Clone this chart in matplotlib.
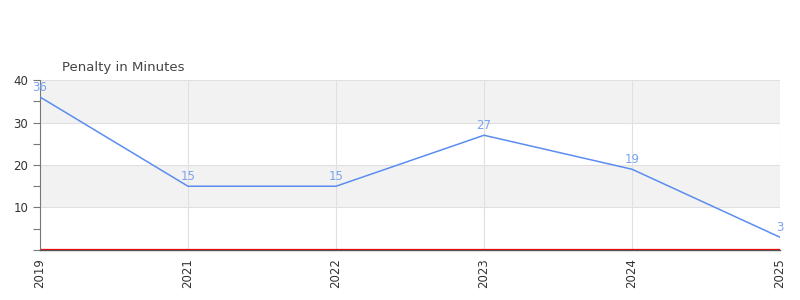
import numpy as np
import matplotlib
matplotlib.use('Agg')
import matplotlib.pyplot as plt
from matplotlib.ticker import MultipleLocator

# data
years = ['2019', '2021', '2022', '2023', '2024', '2025']
penalty = [36, 15, 15, 27, 19, 3]

LINE_COLOR = '#5b8def'
LABEL_COLOR = '#7aa3ec'
TEXT_COLOR = '#444444'

fig = plt.figure(figsize=(8, 3), dpi=100)
ax = fig.add_axes([0.05, 0.1667, 0.925, 0.5666])

x = np.arange(len(years))
ax.set_xlim(x[0], x[-1])
ax.set_ylim(0, 40)

# alternating bands
for lo in (10, 30):
    ax.axhspan(lo, lo + 10, color='#f2f2f2', zorder=0, lw=0)

ax.yaxis.set_major_locator(MultipleLocator(10))
ax.yaxis.set_minor_locator(MultipleLocator(5))
ax.grid(True, which='major', color='#e0e0e0', lw=0.8, zorder=1)
ax.set_axisbelow(True)

ax.plot(x, penalty, color=LINE_COLOR, lw=1.1, zorder=3)
for xi, v in zip(x, penalty):
    ax.text(xi, v + 0.8, str(v), color=LABEL_COLOR, fontsize=8.5,
            ha='center', va='bottom', zorder=4)

# red zero line sits just above the dark axis line
ax.axhline(0.35, color='red', lw=0.9, zorder=2)

ax.set_xticks(x)
ax.set_xticklabels(years, rotation=90, fontsize=8.5, color='#333333')
ax.set_yticks([0, 10, 20, 30, 40])
ax.set_yticklabels(['', '10', '20', '30', '40'], fontsize=8.5, color='#333333')
ax.tick_params(axis='x', length=0, pad=6)
ax.tick_params(axis='y', which='both', color='#777777', length=5, width=0.8)

for s in ('top', 'right'):
    ax.spines[s].set_visible(False)
ax.spines['left'].set_color('#777777')
ax.spines['bottom'].set_color('#555555')
ax.spines['bottom'].set_linewidth(1.0)

fig.text(62 / 800, 1 - 67 / 300, 'Penalty in Minutes', fontsize=9.5,
         color=TEXT_COLOR, ha='left', va='center')

fig.savefig('out.png', dpi=100)
